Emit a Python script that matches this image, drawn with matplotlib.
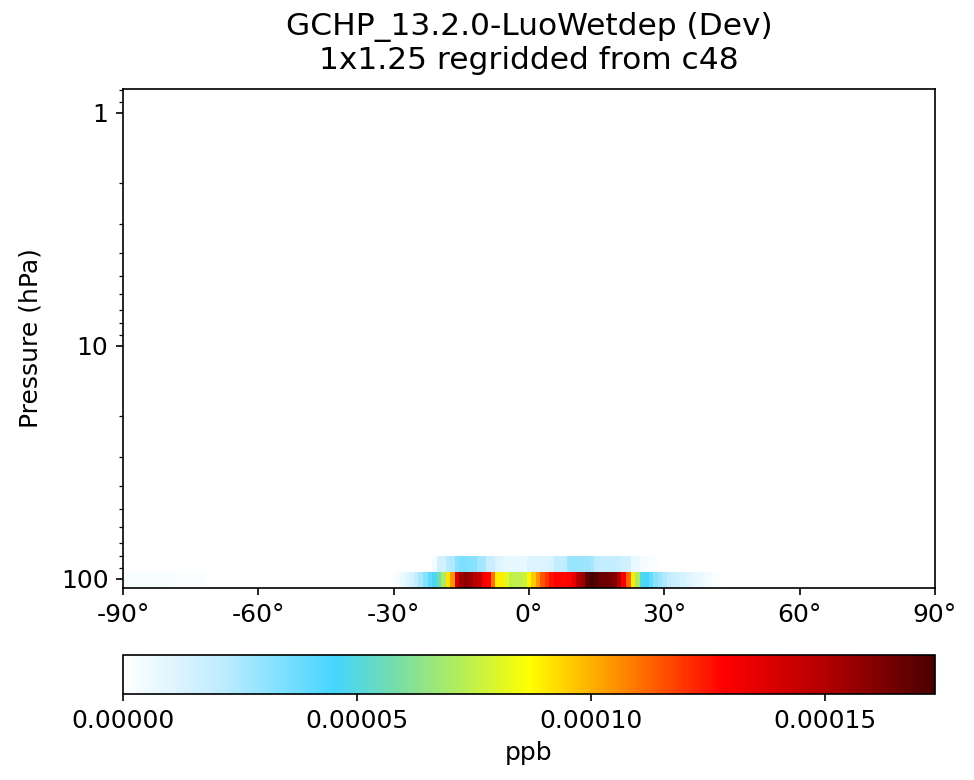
import numpy as np
import matplotlib
matplotlib.use('Agg')
import matplotlib.pyplot as plt
from matplotlib.colors import LinearSegmentedColormap
from matplotlib.ticker import FixedLocator, FuncFormatter, NullFormatter

# grid: 1x1.25 lat centres (deg) and pressure edges of the two lowest shown levels (hPa)
lat_edges = np.arange(-90.5, 91.0, 1.0)
pres_edges = [109.3, 93.3, 79.7]

# lower level (93-109 hPa), values in ppb, per 1 deg latitude starting at -30
lower_start = -30
lower_vals = [
    0.000002, 0.000004, 0.000007, 0.000010, 0.000014, 0.000020, 0.000026, 0.000033,  # -30..-23
    0.000040, 0.000047, 0.000058, 0.000070, 0.000092, 0.000105, 0.000140, 0.000155,  # -22..-15
    0.000158, 0.000155, 0.000148, 0.000146, 0.000130, 0.000128, 0.000110, 0.000090,  # -14..-7
    0.000090, 0.000082, 0.000075, 0.000074, 0.000075, 0.000076, 0.000088, 0.000096,  # -6..1
    0.000105, 0.000115, 0.000120, 0.000126, 0.000128, 0.000128, 0.000127, 0.000128,  # 2..9
    0.000135, 0.000150, 0.000155, 0.000170, 0.0001735, 0.000171, 0.000166, 0.000165,  # 10..17
    0.000164, 0.000160, 0.000150, 0.000130, 0.000112, 0.000090, 0.000070, 0.000050,  # 18..25
    0.000045, 0.000038, 0.000032, 0.000028, 0.000024, 0.000020, 0.000018, 0.000016,  # 26..33
    0.000014, 0.000012, 0.000010, 0.000008, 0.000007, 0.000005, 0.000004, 0.000002,  # 34..41
    0.000001, 0.000001,                                                              # 42..43
]

# lower level, faint values near the south pole
south_start = -90
south_vals = [0.000003] * 12 + [0.0000015] * 7   # -90..-72

# upper level (80-93 hPa), starting at -21
upper_start = -21
upper_vals = [
    0.000004, 0.000015, 0.000015, 0.000023, 0.000024, 0.000032, 0.000034, 0.000034,  # -21..-14
    0.000033, 0.000032, 0.000027, 0.000026, 0.000018, 0.000018, 0.000012, 0.000010,  # -13..-6
    0.000008, 0.000008, 0.000008, 0.000008, 0.000008, 0.000012, 0.000012, 0.000012,  # -5..2
    0.000012, 0.000012, 0.000013, 0.000019, 0.000019, 0.000021, 0.000028, 0.000029,  # 3..10
    0.000029, 0.000028, 0.000028, 0.000026, 0.000021, 0.000019, 0.000019, 0.000019,  # 11..18
    0.000019, 0.000018, 0.000016, 0.000015, 0.000008, 0.000007, 0.000004, 0.000003,  # 19..26
    0.000002, 0.000002,                                                              # 27..28
]

vmin, vmax = 0.0, 0.0001735
cbar_ticks = [0.0, 0.00005, 0.00010, 0.00015]
x_ticks = [-90, -60, -30, 0, 30, 60, 90]
y_ticks = [1, 10, 100]

# build the 2 x 181 field
nlat = len(lat_edges) - 1
lat_c = lat_edges[:-1] + 0.5
field = np.zeros((2, nlat))
for start, vals, lev in [(lower_start, lower_vals, 0), (south_start, south_vals, 0),
                         (upper_start, upper_vals, 1)]:
    i0 = int(np.argmin(np.abs(lat_c - start)))
    field[lev, i0:i0 + len(vals)] = vals

cmap = LinearSegmentedColormap.from_list('wbgyr', [
    (0.00, '#ffffff'),
    (0.12, '#bfecff'),
    (0.26, '#45d5ff'),
    (0.33, '#72dcb0'),
    (0.42, '#b8ee55'),
    (0.50, '#ffff00'),
    (0.60, '#ff9900'),
    (0.74, '#ff0000'),
    (0.87, '#b00000'),
    (1.00, '#4a0000'),
])

fig = plt.figure(figsize=(974 / 150, 780 / 150), dpi=150)
ax = fig.add_axes([123 / 974, 1 - 588 / 780, 812 / 974, 499 / 780])
mesh = ax.pcolormesh(lat_edges, pres_edges, field, cmap=cmap, vmin=vmin, vmax=vmax)

ax.set_yscale('log')
ax.set_ylim(109.3, 0.79)
ax.set_xlim(-90, 90)
ax.yaxis.set_major_locator(FixedLocator(y_ticks))
ax.yaxis.set_major_formatter(FuncFormatter(lambda v, p: '%g' % v))
ax.yaxis.set_minor_formatter(NullFormatter())
ax.set_xticks(x_ticks)
ax.set_xticklabels(['%d°' % t for t in x_ticks])
ax.tick_params(axis='both', which='major', labelsize=12)
ax.set_ylabel('Pressure (hPa)', fontsize=12, labelpad=9)
ax.set_title('GCHP_13.2.0-LuoWetdep (Dev)\n1x1.25 regridded from c48', fontsize=15, pad=9.5)

cax = fig.add_axes([123 / 974, 1 - 694 / 780, 812 / 974, 39 / 780])
cb = fig.colorbar(mesh, cax=cax, orientation='horizontal', ticks=cbar_ticks)
cb.ax.set_xticklabels(['%.5f' % t for t in cbar_ticks])
cb.ax.tick_params(labelsize=12)
cb.set_label('ppb', fontsize=12)

fig.savefig('out.png', dpi=150)
